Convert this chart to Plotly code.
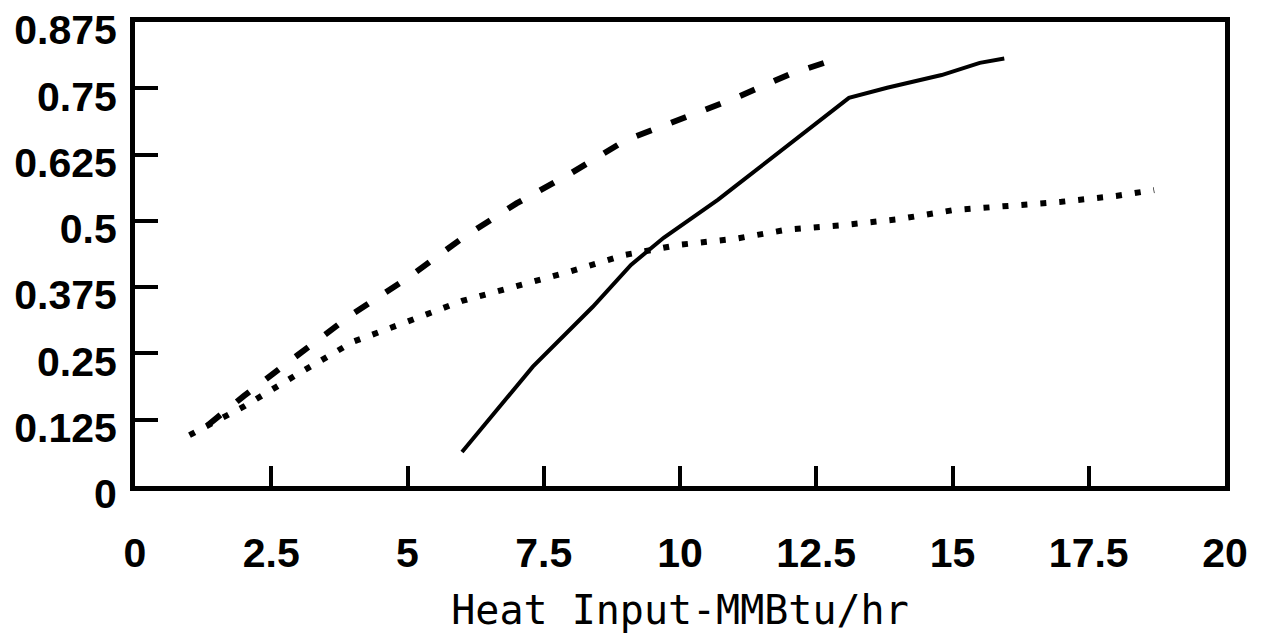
import plotly.graph_objects as go

# x tick labels / y tick labels
x_ticks = [0, 2.5, 5, 7.5, 10, 12.5, 15, 17.5, 20]
x_tick_text = ["0", "2.5", "5", "7.5", "10", "12.5", "15", "17.5", "20"]
y_ticks = [0, 0.125, 0.25, 0.375, 0.5, 0.625, 0.75, 0.875]
y_tick_text = ["0", "0.125", "0.25", "0.375", "0.5", "0.625", "0.75", "0.875"]

# dashed series
dash_x = [1.34, 2.0, 3.0, 4.0, 5.0, 6.0, 7.0, 8.0, 9.0, 10.0, 11.0, 12.0, 13.0]
dash_y = [0.115, 0.17, 0.248, 0.325, 0.392, 0.467, 0.533, 0.59, 0.652, 0.690, 0.731, 0.776, 0.81]

# solid series
solid_x = [6.0, 7.3, 8.4, 9.1, 9.7, 10.7, 11.0, 12.2, 12.8, 13.1, 13.8, 14.8, 15.5, 15.95]
solid_y = [0.064, 0.225, 0.338, 0.417, 0.468, 0.540, 0.564, 0.660, 0.709, 0.732, 0.751, 0.775, 0.798, 0.806]

# dotted series
dot_x = [1.0, 2.0, 3.0, 4.0, 5.0, 6.0, 7.0, 8.0, 9.0, 10.0, 11.0, 12.0, 13.0, 14.0, 15.0, 16.0, 17.0, 18.0, 18.7]
dot_y = [0.096, 0.15, 0.212, 0.272, 0.31, 0.349, 0.377, 0.405, 0.436, 0.455, 0.466, 0.484, 0.492, 0.503, 0.52, 0.528, 0.536, 0.547, 0.558]

fig = go.Figure()
fig.add_trace(go.Scatter(x=dash_x, y=dash_y, mode="lines",
                         line=dict(color="black", width=6, dash="16px,21px"),
                         showlegend=False, hoverinfo="skip"))
fig.add_trace(go.Scatter(x=solid_x, y=solid_y, mode="lines",
                         line=dict(color="black", width=4),
                         showlegend=False, hoverinfo="skip"))
fig.add_trace(go.Scatter(x=dot_x, y=dot_y, mode="lines",
                         line=dict(color="black", width=6, dash="6px,13px"),
                         showlegend=False, hoverinfo="skip"))

tick_font = dict(family="Liberation Sans", size=41, color="black", weight="bold")

# page body has an 8px margin, compensate in figure size/margins
fig.update_layout(
    width=1245, height=625,
    margin=dict(l=127, r=28, t=14, b=147),
    paper_bgcolor="white", plot_bgcolor="white",
    showlegend=False,
    xaxis=dict(
        range=[0, 20], tickvals=x_ticks, ticktext=x_tick_text,
        ticks="inside", ticklen=20, tickwidth=4, tickcolor="black",
        showline=True, linewidth=5, linecolor="black", mirror=True,
        showgrid=False, zeroline=False, automargin=False,
        tickfont=tick_font, ticklabelstandoff=27, ticklabeloverflow="allow",
        title=dict(text="Heat Input-MMBtu/hr",
                   font=dict(family="DejaVu Sans Mono", size=40, color="black"),
                   standoff=23),
    ),
    yaxis=dict(
        range=[0, 0.875], tickvals=y_ticks, ticktext=y_tick_text,
        ticks="inside", ticklen=23, tickwidth=4, tickcolor="black",
        showline=True, linewidth=5, linecolor="black", mirror=True,
        showgrid=False, zeroline=False, automargin=False,
        tickfont=tick_font, ticklabelstandoff=5, ticklabeloverflow="allow",
        ticklabelshift=8,
    ),
)

fig.write_html("out.html")
